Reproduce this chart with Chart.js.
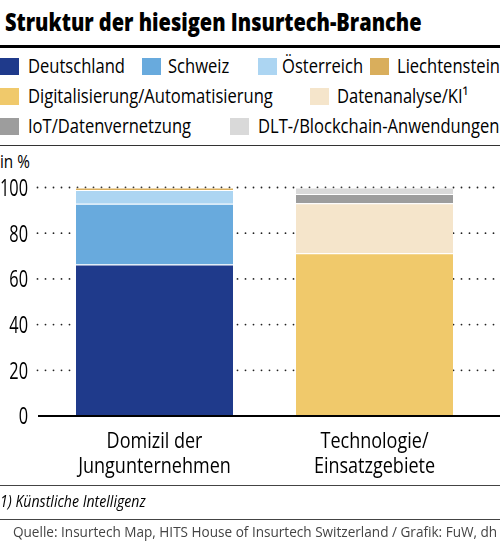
<!DOCTYPE html>
<html><head><meta charset="utf-8">
<script src="https://cdn.jsdelivr.net/npm/chart.js@4"></script>
<style>
html,body{margin:0;padding:0;background:#fff;}
body{width:500px;height:545px;position:relative;overflow:hidden;font-family:"Open Sans",sans-serif;color:#000;}
.abs{position:absolute;white-space:nowrap;transform-origin:0 0;}
#title{left:5px;top:10.2px;font-size:24.5px;line-height:24px;font-weight:800;}
.rule{position:absolute;left:0;width:500px;}
.sw{position:absolute;width:19px;height:17px;}
.lt{position:absolute;font-size:20px;line-height:20px;white-space:nowrap;transform-origin:0 0;}
#unit{left:0;top:152.3px;font-size:18.5px;line-height:18px;}
#foot{left:0;top:492.2px;font-size:17px;line-height:17px;font-style:italic;}
#src{left:13px;top:524.6px;font-size:13.6px;line-height:13.6px;color:#444;}
canvas{position:absolute;left:0;top:0;}
</style></head>
<body>
<div id="title" class="abs">Struktur der hiesigen Insurtech-Branche</div>
<div class="rule" style="top:45px;height:3px;background:#000;"></div>
<div id="legend"></div>
<div class="rule" style="top:145px;height:1px;background:#333;"></div>
<div id="unit" class="abs">in %</div>
<div style="position:absolute;left:0;top:0;width:500px;height:545px;"><canvas id="c"></canvas></div>
<div class="rule" style="top:485px;height:1px;background:#444;"></div>
<div id="foot" class="abs">1) Künstliche Intelligenz</div>
<div class="rule" style="top:519px;height:1px;background:#444;"></div>
<div id="src" class="abs">Quelle: Insurtech Map, HITS House of Insurtech Switzerland / Grafik: FuW, dh</div>
<script>
const categories = [['Domizil der','Jungunternehmen'], ['Technologie/','Einsatzgebiete']];
const seriesNames = ['Deutschland','Schweiz','Österreich','Liechtenstein','Digitalisierung/Automatisierung','Datenanalyse/KI¹','IoT/Datenvernetzung','DLT-/Blockchain-Anwendungen'];
const seriesColors = ['#1f3a8b','#68aadd','#acd5f2','#d9ae5c','#f0c96b','#f5e5cb','#9d9d9d','#d9d9d9'];
const domizilValues = [66.3, 26.6, 6.0, 1.1];
const technologieValues = [71.2, 21.9, 4.1, 2.8];
const yTicks = [0, 20, 40, 60, 80, 100];

function fit(el, target){
  const w = el.offsetWidth;
  const s = target / w;
  el.style.transform = 'scaleX(' + s + ')';
  return s;
}

// legend layout (positions only)
const legendPos = [
  [0,28,56.2],[142,168,56.2],[258,282,56.2],[370,397,56.2],
  [0,28,86.2],[310,337,86.2],
  [0,28,116.2],[230,258,116.2]
];
const lg = document.getElementById('legend');
const legendTexts = [];
seriesNames.forEach((n,i)=>{
  const [sx,tx,ty]=legendPos[i];
  const s=document.createElement('div');s.className='sw';
  s.style.left=sx+'px';s.style.top=(ty+1.8)+'px';s.style.background=seriesColors[i];
  const t=document.createElement('div');t.className='lt';
  t.style.left=tx+'px';t.style.top=ty+'px';t.textContent=n;
  lg.appendChild(s);lg.appendChild(t);legendTexts.push(t);
});
const legScale = 245 / legendTexts[4].offsetWidth;
legendTexts.forEach(t=>{t.style.transform='scaleX('+legScale+')';});
fit(document.getElementById('title'), 417);
document.getElementById('unit').style.transform='scaleX('+legScale+')';
fit(document.getElementById('foot'), 146);
fit(document.getElementById('src'), 484);

const datasets = seriesNames.map((n,i)=>{
  const data = i<4 ? [domizilValues[i], null] : [null, technologieValues[i-4]];
  return {label:n,data,backgroundColor:seriesColors[i],borderColor:'rgba(255,255,255,0.85)',
    borderWidth:{top:1,bottom:0,left:0,right:0},borderSkipped:false,stack:'s',
    categoryPercentage:1,barPercentage:0.714};
});

const FONT = '"Open Sans", sans-serif';

const gridPlugin = {
  id:'grid',
  beforeDatasetsDraw(chart){
    const ctx=chart.ctx, y=chart.scales.y;
    ctx.save();ctx.fillStyle='#222';
    y.ticks.forEach(t=>{
      if(t.value===0) return;
      const py=y.getPixelForValue(t.value);
      for(let x=37.5;x<500;x+=8){ctx.beginPath();ctx.arc(x,py,0.9,0,Math.PI*2);ctx.fill();}
    });
    ctx.restore();
  },
  afterDatasetsDraw(chart){
    const ctx=chart.ctx, y=chart.scales.y, x=chart.scales.x;
    const py=y.getPixelForValue(0);
    ctx.save();ctx.fillStyle='#000';ctx.fillRect(38,py-1,462,2);
    // y tick labels (condensed)
    ctx.font='23.4px '+FONT;ctx.textAlign='right';ctx.textBaseline='alphabetic';
    const ys = 28/ctx.measureText('100').width;
    y.ticks.forEach(t=>{
      const p=y.getPixelForValue(t.value);
      ctx.save();ctx.translate(28,p+8.3);ctx.scale(ys,1);ctx.fillText(String(t.value),0,0);ctx.restore();
    });
    // x tick labels (condensed, two lines)
    ctx.font='22.4px '+FONT;ctx.textAlign='center';
    const xs = 152.7/ctx.measureText('Jungunternehmen').width;
    const bottom=chart.chartArea.bottom;
    chart.data.labels.forEach((lab,i)=>{
      const px=x.getPixelForValue(i);
      const lines=Array.isArray(lab)?lab:[lab];
      lines.forEach((ln,j)=>{
        ctx.save();ctx.translate(px,bottom+31.7+25*j);ctx.scale(xs,1);ctx.fillText(ln,0,0);ctx.restore();
      });
    });
    ctx.restore();
  }
};

new Chart(document.getElementById('c'),{
  type:'bar',
  data:{labels:categories,datasets},
  options:{
    responsive:true,maintainAspectRatio:false,animation:false,
    devicePixelRatio:1,
    layout:{padding:{top:187.5,right:15.5,bottom:69,left:0}},
    plugins:{legend:{display:false},tooltip:{enabled:false}},
    scales:{
      x:{stacked:true,grid:{display:false},border:{display:false},
        ticks:{display:false},
        afterFit(s){s.height=60;}},
      y:{stacked:true,min:0,max:100,grid:{display:false},border:{display:false},
        ticks:{display:false,stepSize:20},
        afterFit(s){s.width=44.5;}}
    }
  },
  plugins:[gridPlugin]
});
</script>
</body></html>
